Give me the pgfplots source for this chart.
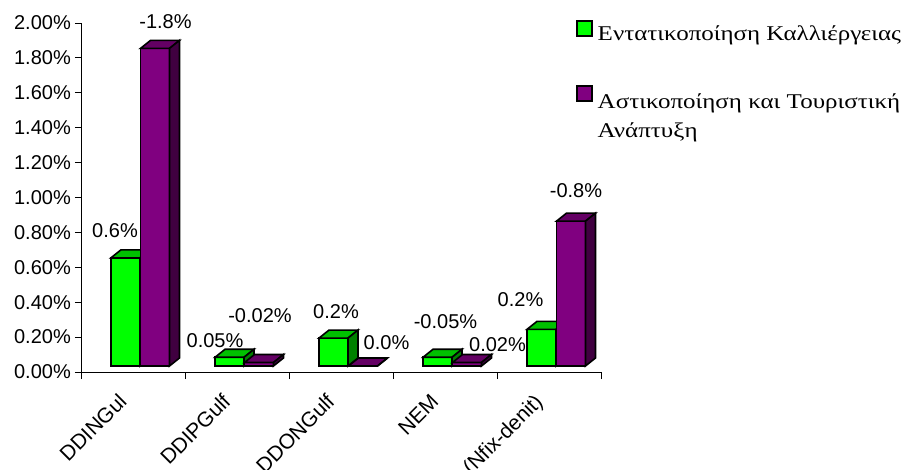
\documentclass[border=0pt]{standalone}
\usepackage{pgfplots}
\pgfplotsset{compat=1.18}
\usepackage{pgfplotstable}
\usepackage{fontspec}
\setmainfont{Liberation Serif}
\newfontfamily\arialfont{Liberation Sans}
\newfontfamily\legendface[FakeStretch=1.19]{Liberation Serif}

\definecolor{gfront}{RGB}{0,255,0}
\definecolor{gtop}{RGB}{0,192,0}
\definecolor{gside}{RGB}{0,128,0}
\definecolor{pfront}{RGB}{128,0,128}
\definecolor{ptop}{RGB}{100,0,100}
\definecolor{pside}{RGB}{64,0,64}

\newcommand\labelfont{\arialfont\fontsize{20}{23}\selectfont}
\newcommand\catfont{\arialfont\fontsize{21}{24}\selectfont}
\newcommand\legendfont{\legendface\fontsize{21}{29}\selectfont}

% 3D column drawn as a plot mark at the top of the value:
% #1 name, #2 front, #3 top, #4 side colour, #5 horizontal offset
\newcommand\declarebarmark[5]{%
  \pgfdeclareplotmark{#1}{%
    \pgfmathsetmacro\barh{\barval*174.5}%
    \pgfsetlinewidth{1.6pt}%
    \pgfsetstrokecolor{black}%
    \pgfsetmiterjoin
    \pgfsetfillcolor{#2}%
    \pgfpathrectanglecorners{\pgfpoint{#5-14.5pt}{6pt-\barh pt}}{\pgfpoint{#5+14.5pt}{6pt}}%
    \pgfusepath{fill,stroke}%
    \pgfsetfillcolor{#3}%
    \pgfpathmoveto{\pgfpoint{#5-14.5pt}{6pt}}%
    \pgfpathlineto{\pgfpoint{#5+14.5pt}{6pt}}%
    \pgfpathlineto{\pgfpoint{#5+24.5pt}{14pt}}%
    \pgfpathlineto{\pgfpoint{#5-4.5pt}{14pt}}%
    \pgfpathclose
    \pgfusepath{fill,stroke}%
    \pgfsetfillcolor{#4}%
    \pgfpathmoveto{\pgfpoint{#5+14.5pt}{6pt}}%
    \pgfpathlineto{\pgfpoint{#5+14.5pt}{6pt-\barh pt}}%
    \pgfpathlineto{\pgfpoint{#5+24.5pt}{14pt-\barh pt}}%
    \pgfpathlineto{\pgfpoint{#5+24.5pt}{14pt}}%
    \pgfpathclose
    \pgfusepath{fill,stroke}%
  }}
\declarebarmark{bargreen}{gfront}{gtop}{gside}{-7.5pt}
\declarebarmark{barpurple}{pfront}{ptop}{pside}{22pt}

% value (in %), printed label, label offset
\pgfplotstableread{
x y    lbl   dx    dy
0 0.62 0.6   -18   32.8
1 0.05 0.05  -22   22.8
2 0.16 0.2   -5    32.1
3 0.05 -0.05 0.5   41.3
4 0.21 0.2   -28.5 35.4
}\greendata
\pgfplotstableread{
x y    lbl   dx    dy
0 1.82 -1.8  32.5  32.9
1 0.02 -0.02 23    52.5
2 0.0  0.0   45.5  29
3 0.02 0.02  52.5  24
4 0.83 -0.8  27    36.2
}\purpledata

\pgfplotsset{
  bar3d/.style={
    only marks,
    visualization depends on={rawy \as \barval},
    visualization depends on={\thisrow{dx} \as \ldx},
    visualization depends on={\thisrow{dy} \as \ldy},
    point meta=explicit symbolic,
    nodes near coords={\pgfplotspointmeta\%},
    every node near coord/.append style={anchor=center, inner sep=0pt,
      xshift=\ldx pt, yshift=\ldy pt, font=\labelfont, text=black},
  }
}

\begin{document}
\begin{tikzpicture}
\begin{axis}[
  name=ax,
  scale only axis,
  width=520pt, height=349pt,
  xmin=-0.5, xmax=4.5, ymin=0, ymax=2,
  clip=false,
  axis x line*=bottom, axis y line*=left,
  axis line style={black, line width=0.8pt},
  xtick={0,1,2,3,4},
  xticklabels={DDINGul,DDIPGulf,DDONGulf,NEM,(Nfix-denit)},
  major x tick style={draw=none},
  minor xtick={-0.5,0.5,1.5,2.5,3.5,4.5},
  ytick={0,0.2,0.4,0.6,0.8,1,1.2,1.4,1.6,1.8,2},
  yticklabels={0.00\%,0.20\%,0.40\%,0.60\%,0.80\%,1.00\%,1.20\%,1.40\%,1.60\%,1.80\%,2.00\%},
  tick align=outside,
  major tick length=6pt, minor tick length=7pt,
  tick style={black, line width=0.8pt},
  /pgf/number format/assume math mode=true,
  yticklabel style={font=\labelfont, anchor=east, inner sep=0pt, xshift=-4pt},
  xticklabel style={font=\catfont, xshift=-5pt, yshift=-25pt, rotate=45, anchor=base east, inner sep=0pt},
  legend style={at={(0.952,1.0086)}, anchor=north west, draw=none, fill=none,
    font=\legendfont, inner sep=0pt, row sep=41pt, column sep=3pt, cells={anchor=base west}},
  legend cell align=left,
]
\addplot[bar3d, mark=bargreen,
  legend image code/.code={\draw[fill=gfront, line width=1.5pt] (0pt,-2pt) rectangle (15pt,13pt);}]
  table[x=x, y=y, meta=lbl]{\greendata};
\addlegendentry{Εντατικοποίηση Καλλιέργειας}
\addplot[bar3d, mark=barpurple,
  legend image code/.code={\draw[fill=pfront, line width=1.5pt] (0pt,-2pt) rectangle (15pt,13pt);}]
  table[x=x, y=y, meta=lbl]{\purpledata};
\addlegendentry{\begin{tabular}[t]{@{}l@{}}Αστικοποίηση και Τουριστική\\Ανάπτυξη\end{tabular}}
\end{axis}
\pgfresetboundingbox
\path[use as bounding box] ([shift={(-81pt,-97pt)}]ax.south west) rectangle ([shift={(828pt,372pt)}]ax.south west);
\end{tikzpicture}
\end{document}
